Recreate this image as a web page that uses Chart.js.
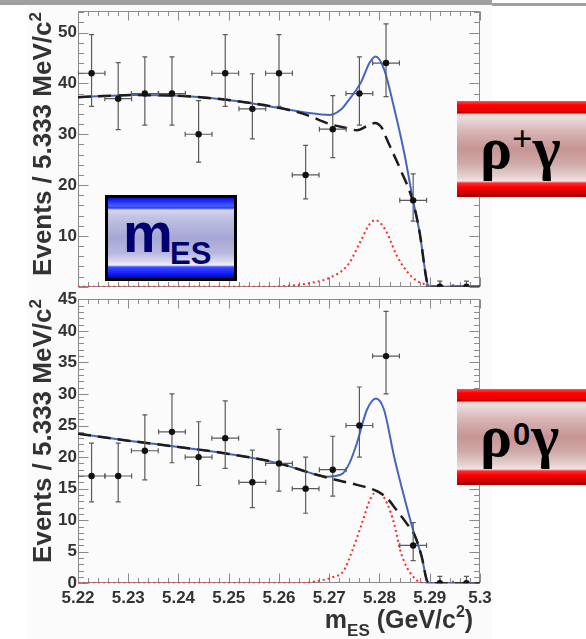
<!DOCTYPE html>
<html>
<head>
<meta charset="utf-8">
<title>B → ργ : m_ES fits</title>
<script src="https://cdn.jsdelivr.net/npm/chart.js@4.4.1/dist/chart.umd.min.js"></script>
<style>
  html, body { margin: 0; padding: 0; background: #fff; }
  #page { position: relative; width: 586px; height: 639px; overflow: hidden; background: #fff;
          font-family: "Liberation Sans", Arial, Helvetica, sans-serif; }
  #figure { position: absolute; left: 27px; top: 5px; width: 465px; height: 634px; background: #fbfbfb; }
  .bar { position: absolute; background: #a0a0a0; }
  canvas { position: absolute; left: 0; }
  #cTop { top: 0; }
  #cBottom { top: 288px; }
  .ytitle { position: absolute; font-weight: bold; font-size: 26px; line-height: 26px; color: #333;
            white-space: nowrap; transform: translate(-50%, -50%) rotate(-90deg); }
  .ytitle .sup { position: relative; top: -10px; font-size: 17px; }
  #xtitle { position: absolute; left: 399px; top: 607px; transform: translateX(-50%);
            font-weight: bold; font-size: 25px; line-height: 25px; color: #333; white-space: nowrap; }
  #xtitle .sub { position: relative; top: 8px; font-size: 17px; }
  #xtitle .sup { position: relative; top: -11px; font-size: 16px; }
  .badge-m { position: absolute; left: 105px; top: 195px; width: 132px; height: 86px;
             box-sizing: border-box; border: 3px solid #000;
             background: linear-gradient(to bottom,
               #0a0ad8 0px, #1e2cff 3px, #4a5cff 8px, #2a3af0 10px, #d6d8f2 12px, #c4c4e4 18px,
               #a6a6d6 40px, #b8b8de 55px, #dcdcee 64px, #f2f2fa 67px, #3c4cff 69px,
               #1a28ff 74px, #0000c0 80px); }
  .badge-m span { position: absolute; font-weight: bold; color: #000070; white-space: nowrap; }
  .badge-m .m { left: 15px; top: 7px; font-size: 56px; line-height: 56px; }
  .badge-m .es { left: 62px; top: 40px; font-size: 31px; line-height: 31px; }
  .badge-rho { position: absolute; left: 457px; width: 135px; height: 96px;
               background: linear-gradient(to bottom,
                 #ff5050 0px, #ff0000 4px, #f00000 9px, #b00000 12px, #d8c4c4 13px, #ecdede 16px,
                 #d8b6b6 30px, #c89494 48px, #d0a8a8 62px, #e6d2d2 76px, #f2e6e6 80px,
                 #ff3030 82px, #ff0000 86px, #c00000 93px, #9c0000 96px); }
  .badge-rho .txt { position: absolute; left: 23px; top: 17px; font-family: "Liberation Serif", "DejaVu Serif", "Times New Roman", serif;
                    font-weight: bold; font-size: 60px; line-height: 60px; color: #000; white-space: nowrap; }
  .badge-rho .txt .sup { position: relative; top: -17px; font-size: 36px; }
  .badge-rho .txt .sup0 { position: relative; top: -11px; font-size: 31px; margin: 0 1px;
                          font-family: "Liberation Sans", Arial, sans-serif; }
</style>
</head>
<body>
<div id="page">
  <div id="figure"></div>
  <div class="bar" style="left:0;top:0;width:492px;height:5px;"></div>
  <div class="bar" style="left:492px;top:3px;width:94px;height:3px;"></div>

  <canvas id="cTop" width="586" height="298" style="width:586px;height:298px;"></canvas>
  <canvas id="cBottom" width="586" height="351" style="width:586px;height:351px;"></canvas>

  <div class="ytitle" style="left:44px;top:144px;">Events / 5.333 MeV/c<span class="sup">2</span></div>
  <div class="ytitle" style="left:44px;top:431px;">Events / 5.333 MeV/c<span class="sup">2</span></div>
  <div id="xtitle">m<span class="sub">ES</span> (GeV/c<span class="sup">2</span>)</div>

  <div class="badge-m"><span class="m">m</span><span class="es">ES</span></div>
  <div class="badge-rho" style="top:101px;"><div class="txt">ρ<span class="sup">+</span>γ</div></div>
  <div class="badge-rho" style="top:389px;"><div class="txt">ρ<span class="sup0">0</span>γ</div></div>
</div>

<script>
// ---- binning (GeV/c^2) ----
const binCenters = [5.2227, 5.2280, 5.2333, 5.2387, 5.2440, 5.2493, 5.2547, 5.2600,
                    5.2653, 5.2707, 5.2760, 5.2813, 5.2867, 5.2920, 5.2973];
const binHalfWidth = 0.002667;

// ---- axis ticks ----
const massTicks = [5.22, 5.23, 5.24, 5.25, 5.26, 5.27, 5.28, 5.29, 5.30];
const massTickLabels = ['5.22', '5.23', '5.24', '5.25', '5.26', '5.27', '5.28', '5.29', '5.3'];
const chargedYTicks = [10, 20, 30, 40, 50];
const chargedYTickLabels = ['10', '20', '30', '40', '50'];
const neutralYTicks = [0, 5, 10, 15, 20, 25, 30, 35, 40, 45];
const neutralYTickLabels = ['0', '5', '10', '15', '20', '25', '30', '35', '40', '45'];

// ---- B -> rho+ gamma : events per bin with asymmetric errors ----
const chargedEvents  = [42, 37, 38, 38, 30, 42, 35, 42, 22, 31, 38, 44, 17, 0, 0];
const chargedErrLow  = [6.5, 6.1, 6.2, 6.2, 5.5, 6.5, 5.9, 6.5, 4.7, 5.6, 6.2, 6.6, 4.1, 0, 0];
const chargedErrHigh = [7.6, 7.1, 7.2, 7.2, 6.6, 7.6, 6.9, 7.6, 5.8, 6.6, 7.2, 7.7, 5.2, 1.1, 1.1];

// rho+ gamma fit curves [m_ES, events]
const chargedBackground = [[5.22, 37.3], [5.225, 37.5], [5.231, 37.7], [5.241, 37.5], [5.251, 36.6],
  [5.2605, 35.1], [5.2652, 33.9], [5.2701, 32.0], [5.2735, 31.2], [5.2755, 30.8], [5.2775, 31.6],
  [5.2791, 32.2], [5.2805, 31.2], [5.2815, 28.9], [5.2841, 23.2], [5.2867, 16.6], [5.288, 10.6],
  [5.2894, 1.2], [5.2898, 0], [5.3, 0]];
const chargedTotal = [[5.22, 37.3], [5.225, 37.5], [5.231, 37.7], [5.241, 37.5], [5.251, 36.6],
  [5.2605, 35.1], [5.2652, 34.3], [5.2701, 33.8], [5.2725, 35.0], [5.2737, 36.5], [5.2763, 40.2],
  [5.278, 44.0], [5.2792, 45.3], [5.2809, 42.8], [5.2829, 35.2], [5.2849, 26.4], [5.2867, 16.9],
  [5.288, 10.6], [5.2894, 1.2], [5.2898, 0], [5.3, 0]];
const chargedSignal = [[5.22, 0], [5.258, 0], [5.262, 0.2], [5.266, 0.7], [5.2701, 1.8], [5.2737, 4.3],
  [5.2763, 9.1], [5.278, 12.3], [5.2792, 13.1], [5.2804, 12.3], [5.2815, 10.6], [5.2834, 6.2],
  [5.2854, 3.1], [5.2874, 1.2], [5.2887, 0.6], [5.2905, 0.1], [5.292, 0], [5.3, 0]];

// ---- B -> rho0 gamma : events per bin with asymmetric errors ----
const neutralEvents  = [17, 17, 21, 24, 20, 23, 16, 19, 15, 18, 25, 36, 6, 0, 0];
const neutralErrLow  = [4.1, 4.1, 4.6, 4.9, 4.5, 4.8, 4.0, 4.4, 3.9, 4.2, 5.0, 6.0, 2.4, 0, 0];
const neutralErrHigh = [5.2, 5.2, 5.7, 6.0, 5.6, 5.9, 5.1, 5.4, 5.0, 5.3, 6.1, 7.1, 3.6, 1.1, 1.1];

// rho0 gamma fit curves [m_ES, events]
const neutralBackground = [[5.22, 23.7], [5.23, 22.6], [5.24, 21.6], [5.25, 20.5], [5.26, 19.0],
  [5.2654, 17.7], [5.2708, 16.5], [5.2755, 15.6], [5.2795, 14.6], [5.2815, 13.5], [5.2834, 11.6],
  [5.2854, 9.5], [5.2871, 7.4], [5.2884, 4.2], [5.2894, 0.5], [5.2898, 0], [5.3, 0]];
const neutralTotal = [[5.22, 23.7], [5.23, 22.6], [5.24, 21.6], [5.25, 20.5], [5.26, 19.0],
  [5.2654, 17.7], [5.2695, 16.9], [5.2725, 17.3], [5.274, 19.0], [5.2755, 22.2], [5.2775, 27.5],
  [5.2793, 29.3], [5.2809, 27.5], [5.2829, 20.1], [5.2849, 13.7], [5.2867, 8.4], [5.2884, 4.2],
  [5.2894, 0.5], [5.2898, 0], [5.3, 0]];
const neutralSignal = [[5.22, 0], [5.264, 0], [5.268, 0.4], [5.2708, 1.0], [5.2728, 1.9], [5.2745, 5.0],
  [5.2765, 9.5], [5.2782, 13.4], [5.2795, 14.6], [5.2807, 13.8], [5.2815, 12.7], [5.2829, 9.5],
  [5.2841, 5.3], [5.2854, 2.6], [5.2874, 0.5], [5.289, 0], [5.3, 0]];

// ---- drawing helpers ----
const FRAME_COLOR = '#8a8a8a';
const LABEL_COLOR = '#333';
const labelFont = { family: '"Liberation Sans", Arial, sans-serif', weight: 'bold', size: 17 };

// Frame around the plot area with inward major/minor ticks on all four sides.
const frameTicks = {
  id: 'frameTicks',
  beforeDatasetsDraw(chart, args, o) {
    const { ctx, chartArea: a, scales: { x, y } } = chart;
    const L = Math.round(a.left) + 0.5, R = Math.round(a.right) - 0.5;
    const T = Math.round(a.top) + 0.5, B = Math.round(a.bottom) - 0.5;
    ctx.save();
    ctx.strokeStyle = FRAME_COLOR;
    ctx.lineWidth = 1;
    ctx.beginPath();
    ctx.rect(L, T, R - L, B - T);
    const nx = Math.round((x.max - x.min) / o.xMinor);
    for (let i = 0; i <= nx; i++) {
      const px = Math.round(x.getPixelForValue(x.min + i * o.xMinor)) + 0.5;
      const len = i % o.xPerMajor === 0 ? o.xMajorLen : o.xMinorLen;
      ctx.moveTo(px, B); ctx.lineTo(px, B - len);
      ctx.moveTo(px, T); ctx.lineTo(px, T + len);
    }
    const ny = Math.floor((y.max - y.min) / o.yMinor + 1e-6);
    for (let i = 0; i <= ny; i++) {
      const py = Math.round(y.getPixelForValue(y.min + i * o.yMinor)) + 0.5;
      const len = i % o.yPerMajor === 0 ? o.yMajorLen : o.yMinorLen;
      ctx.moveTo(L, py); ctx.lineTo(L + len, py);
      ctx.moveTo(R, py); ctx.lineTo(R - len, py);
    }
    ctx.stroke();
    ctx.restore();
  }
};

// Horizontal bin-width bars and asymmetric vertical error bars under the data points.
const errorBars = {
  id: 'errorBars',
  beforeDatasetDraw(chart, args, o) {
    if (args.index !== 0) return;
    const { ctx, chartArea: a, scales: { x, y } } = chart;
    const pts = chart.data.datasets[0].data;
    ctx.save();
    ctx.beginPath();
    ctx.rect(a.left, a.top - 2, a.right - a.left, a.bottom - a.top + 2);
    ctx.clip();
    ctx.strokeStyle = o.color;
    ctx.lineWidth = 1.2;
    pts.forEach((p, i) => {
      const cx = x.getPixelForValue(p.x), cy = y.getPixelForValue(p.y);
      const xl = x.getPixelForValue(p.x - o.halfWidth), xr = x.getPixelForValue(p.x + o.halfWidth);
      const yt = y.getPixelForValue(p.y + o.high[i]), yb = y.getPixelForValue(p.y - o.low[i]);
      ctx.beginPath();
      ctx.moveTo(xl, cy); ctx.lineTo(xr, cy);
      ctx.moveTo(cx, yt); ctx.lineTo(cx, yb);
      ctx.moveTo(cx - o.cap, yt); ctx.lineTo(cx + o.cap, yt);
      if (o.low[i] > 0) { ctx.moveTo(cx - o.cap, yb); ctx.lineTo(cx + o.cap, yb); }
      ctx.moveTo(xl, cy - o.cap); ctx.lineTo(xl, cy + o.cap);
      ctx.moveTo(xr, cy - o.cap); ctx.lineTo(xr, cy + o.cap);
      ctx.stroke();
    });
    ctx.restore();
  }
};

const toXY = pairs => pairs.map(([x, y]) => ({ x, y }));

function buildPanel(canvasId, p) {
  return new Chart(document.getElementById(canvasId), {
    type: 'scatter',
    data: {
      datasets: [
        { label: 'Data', order: 0,
          data: binCenters.map((x, i) => ({ x, y: p.events[i] })),
          pointRadius: 3.2, pointBackgroundColor: '#111', pointBorderWidth: 0 },
        { label: 'Background', order: 1, data: toXY(p.background), showLine: true,
          pointRadius: 0, borderColor: '#1c1c1c', borderWidth: 2.5, borderDash: [13, 7],
          cubicInterpolationMode: 'monotone' },
        { label: 'Total fit', order: 2, data: toXY(p.total), showLine: true,
          pointRadius: 0, borderColor: '#4666bd', borderWidth: 2,
          cubicInterpolationMode: 'monotone' },
        { label: 'Signal', order: 3, data: toXY(p.signal), showLine: true,
          pointRadius: 0, borderColor: '#ff2a2a', borderWidth: 2, borderDash: [2, 3],
          cubicInterpolationMode: 'monotone' }
      ]
    },
    options: {
      responsive: false,
      animation: false,
      events: [],
      devicePixelRatio: 1,
      layout: { padding: { left: 0, right: 106, top: p.padTop, bottom: 0 } },
      scales: {
        x: {
          type: 'linear', min: 5.22, max: 5.30,
          grid: { display: false, drawTicks: false },
          border: { display: false },
          afterBuildTicks: s => { s.ticks = massTicks.map(v => ({ value: v })); },
          afterFit: s => { s.height = p.xAxisHeight; },
          ticks: { display: p.showXLabels, autoSkip: false, maxRotation: 0, padding: 5,
                   color: LABEL_COLOR, font: labelFont,
                   callback: (v, i) => massTickLabels[i] }
        },
        y: {
          type: 'linear', min: 0, max: p.yMax,
          grid: { display: false, drawTicks: false },
          border: { display: false },
          afterBuildTicks: s => { s.ticks = p.yTicks.map(v => ({ value: v })); },
          afterFit: s => { s.width = 78; },
          ticks: { autoSkip: false, padding: 1, color: LABEL_COLOR, font: labelFont,
                   callback: (v, i) => p.yTickLabels[i] }
        }
      },
      plugins: {
        legend: { display: false },
        tooltip: { enabled: false },
        frameTicks: { xMinor: 0.002, xPerMajor: 5, xMajorLen: 9, xMinorLen: 4.5,
                      yMinor: p.yMinor, yPerMajor: 5, yMajorLen: 10, yMinorLen: 5.5 },
        errorBars: { color: '#5a5a5a', halfWidth: binHalfWidth, cap: 2.5,
                     low: p.errLow, high: p.errHigh }
      }
    },
    plugins: [frameTicks, errorBars]
  });
}

buildPanel('cTop', {
  events: chargedEvents, errLow: chargedErrLow, errHigh: chargedErrHigh,
  background: chargedBackground, total: chargedTotal, signal: chargedSignal,
  yMax: 54.2, yMinor: 2, yTicks: chargedYTicks, yTickLabels: chargedYTickLabels,
  padTop: 9.5, xAxisHeight: 3, showXLabels: false
});

buildPanel('cBottom', {
  events: neutralEvents, errLow: neutralErrLow, errHigh: neutralErrHigh,
  background: neutralBackground, total: neutralTotal, signal: neutralSignal,
  yMax: 45, yMinor: 1, yTicks: neutralYTicks, yTickLabels: neutralYTickLabels,
  padTop: 11.3, xAxisHeight: 55.7, showXLabels: true
});
</script>
</body>
</html>
